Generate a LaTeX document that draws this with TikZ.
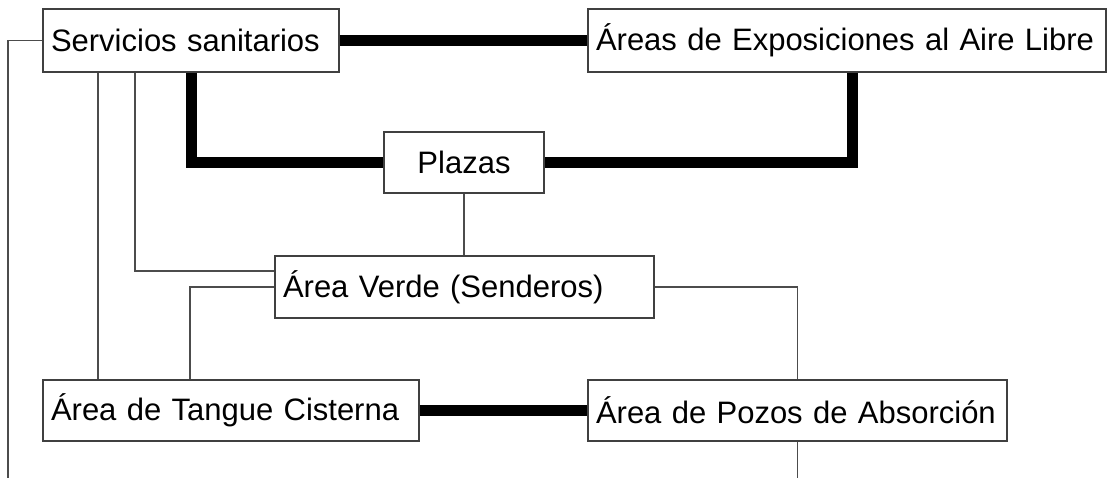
\documentclass[tikz,border=0pt]{standalone}
\usepackage{fontspec}
\setmainfont{Liberation Sans}
\begin{document}
\begin{tikzpicture}[x=1pt,y=-1pt,
  box/.style={draw=black!75, line width=1.3pt, fill=white, inner xsep=8pt, inner ysep=0pt,
    font=\fontsize{31}{36}\selectfont, align=left, anchor=center},
  thk/.style={line width=11pt, black},
  thn/.style={line width=1.3pt, black!70}]
\useasboundingbox (0,0) rectangle (1108,478);
\node[box, minimum width=296pt, minimum height=63pt, text width=280pt] (S) at (191,40.5) {Servicios sanitarios};
\node[box, minimum width=518pt, minimum height=63pt, text width=502pt] (A) at (847,40.5) {Áreas de Exposiciones al Aire Libre};
\node[box, minimum width=160pt, minimum height=61pt, text width=144pt, align=center] (P) at (464,162.5) {Plazas};
\node[box, minimum width=379pt, minimum height=62pt, text width=363pt] (V) at (464.5,287) {Área Verde (Senderos)};
\node[box, minimum width=376pt, minimum height=61pt, text width=360pt] (T) at (231,410.5) {Área de Tangue Cisterna};
\node[box, minimum width=419pt, minimum height=61pt, text width=403pt] (Z) at (797.5,410.5) {Área de Pozos de Absorción};
\coordinate (c1) at (8,478);
\coordinate (x98) at (98,0);
\coordinate (x135) at (135,0);
\coordinate (x190) at (190,0);
% thick connectors
\draw[thk] (S.east) -- (A.west);
\draw[thk] (S.south) |- (P.west);
\draw[thk] ([xshift=5pt]A.south) |- (P.east);
\draw[thk] (T.east) -- (Z.west);
% thin connectors
\draw[thn] (S.west) -| (c1);
\draw[thn] (S.south -| x98) -- (T.north -| x98);
\draw[thn] (S.south -| x135) |- ([yshift=16pt]V.west);
\draw[thn] (P.south) -- (P.south |- V.north);
\draw[thn] (V.west) -| (T.north -| x190);
\draw[thn] (V.east) -| (Z.north);
\draw[thn] (Z.south) -- (Z.south |- c1);
\end{tikzpicture}
\end{document}
